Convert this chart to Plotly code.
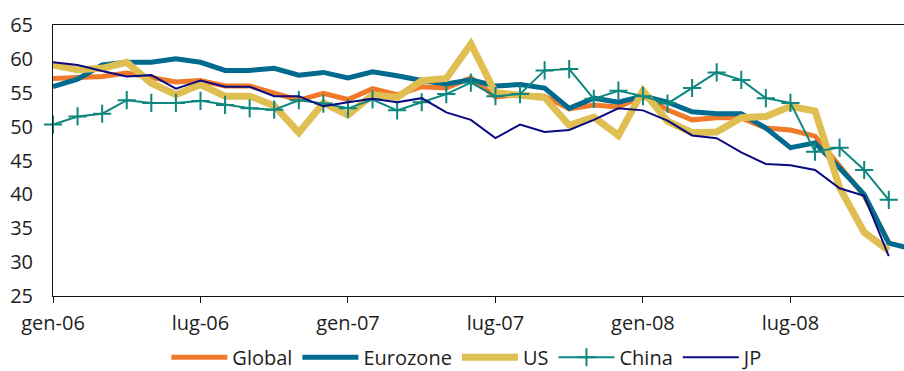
import plotly.graph_objects as go

# Monthly PMI readings, Jan 2006 - Dec 2008
months = [f"{m}-{y:02d}" for y in (6, 7, 8)
          for m in ["gen", "feb", "mar", "apr", "mag", "giu",
                    "lug", "ago", "set", "ott", "nov", "dic"]]
tick_labels = ["gen-06", "lug-06", "gen-07", "lug-07", "gen-08", "lug-08"]

global_pmi = [57.1, 57.2, 57.4, 57.9, 57.3, 56.6, 56.8, 56.0, 56.0, 55.0,
              53.9, 54.9, 54.0, 55.6, 54.7, 55.9, 55.7, 57.2, 54.4, 54.7,
              54.5, 52.6, 53.2, 52.9, 54.5, 52.5, 51.0, 51.3, 51.3, 49.8,
              49.5, 48.6, 44.2, 39.8, 32.9]
eurozone_pmi = [55.9, 57.0, 59.1, 59.5, 59.5, 60.0, 59.5, 58.3, 58.3, 58.6,
                57.6, 58.0, 57.2, 58.1, 57.5, 56.8, 56.3, 56.9, 56.0, 56.2,
                55.7, 52.7, 54.2, 53.6, 54.5, 53.6, 52.2, 51.9, 51.9, 49.8,
                46.9, 47.6, 43.9, 40.0, 32.8, 31.9]
us_pmi = [59.1, 58.4, 58.6, 59.5, 56.4, 54.7, 56.2, 54.5, 54.5, 53.1,
          49.1, 53.5, 51.7, 54.7, 54.3, 56.8, 57.1, 62.2, 55.0, 54.7,
          54.3, 50.2, 51.4, 48.7, 55.3, 50.8, 49.1, 49.2, 51.3, 51.5,
          53.0, 52.3, 41.0, 34.4, 31.7]
china_pmi = [50.3, 51.5, 51.9, 53.9, 53.5, 53.5, 53.8, 53.2, 52.7, 52.5,
             53.9, 53.4, 52.7, 54.0, 52.4, 53.6, 54.8, 56.5, 54.5, 54.8,
             58.3, 58.5, 54.1, 55.3, 54.5, 53.4, 55.7, 58.0, 56.9, 54.2,
             53.5, 46.3, 46.9, 43.6, 39.2]
jp_pmi = [59.5, 59.1, 58.2, 57.4, 57.6, 55.6, 56.8, 55.9, 55.9, 54.5,
          54.5, 53.0, 53.6, 54.1, 53.6, 54.2, 52.1, 51.0, 48.3, 50.3,
          49.2, 49.5, 51.0, 52.7, 52.4, 50.9, 48.7, 48.3, 46.2, 44.5,
          44.3, 43.6, 40.9, 39.8, 30.9]

FONT = "Open Sans"
TEXT = "#1e1e1e"

series = [
    ("Global", global_pmi, "#F07A2A", 5, None),
    ("Eurozone", eurozone_pmi, "#006B8F", 5, None),
    ("US", us_pmi, "#DFBE52", 7, None),
    ("China", china_pmi, "#0E877F", 2, "cross-thin"),
    ("JP", jp_pmi, "#0A0A80", 2, None),
]

fig = go.Figure()
for name, vals, color, width, symbol in series:
    mode = "lines+markers" if symbol else "lines"
    marker = dict(symbol=symbol, size=13, line=dict(color=color, width=2),
                  color=color) if symbol else None
    fig.add_trace(go.Scatter(
        x=months[:len(vals)], y=vals, name=name, mode=mode,
        line=dict(color=color, width=width),
        marker=marker,
        cliponaxis=not symbol,
    ))

fig.update_layout(
    width=904, height=371,
    margin=dict(l=52.5, r=0, t=24.5, b=74.5),
    paper_bgcolor="white", plot_bgcolor="white",
    font=dict(family=FONT, size=20, color=TEXT),
    showlegend=True,
    legend=dict(
        orientation="h", xref="container", yref="container",
        x=0.517, xanchor="center", y=0.037, yanchor="middle",
        itemwidth=56, font=dict(family=FONT, size=20, color=TEXT),
        bgcolor="rgba(0,0,0,0)", tracegroupgap=0, borderwidth=0,
    ),
    xaxis=dict(
        type="category", categoryorder="array", categoryarray=months,
        range=[0, 34.62], showgrid=False, zeroline=False,
        showline=True, linecolor="#111111", linewidth=1, mirror=True,
        ticks="outside", ticklen=6, tickcolor="#111111",
        tickvals=tick_labels, ticktext=tick_labels,
        ticklabelstandoff=3,
        tickfont=dict(family=FONT, size=20, color=TEXT),
    ),
    yaxis=dict(
        range=[25, 65], dtick=5, showgrid=False, zeroline=False,
        showline=True, linecolor="#111111", linewidth=1,
        ticks="", ticklabelstandoff=15,
        tickfont=dict(family=FONT, size=20, color=TEXT),
    ),
)

fig.write_html("out.html")
